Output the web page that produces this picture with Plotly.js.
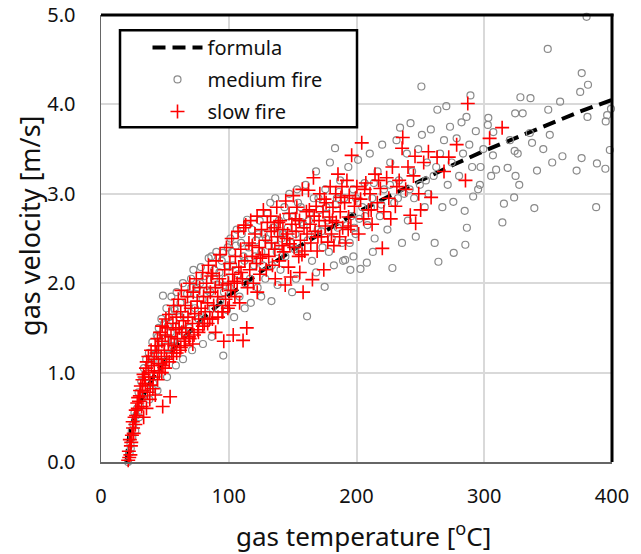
<!DOCTYPE html>
<html>
<head>
<meta charset="utf-8">
<script src="https://cdn.plot.ly/plotly-3.0.1.min.js"></script>
<style>html,body{margin:0;padding:0;background:#fff;}#chart{width:641px;height:554px;}</style>
</head>
<body>
<div id="chart"></div>
<script>
// formula curve
const formulaT = [20, 22, 25, 30, 40, 50, 60, 80, 100, 125, 150, 175, 200, 225, 250, 275, 300, 325, 350, 375, 400];
const formulaV = [0.0, 0.29, 0.46, 0.66, 0.93, 1.14, 1.32, 1.61, 1.86, 2.13, 2.37, 2.58, 2.79, 2.97, 3.15, 3.32, 3.48, 3.63, 3.78, 3.92, 4.05];

// medium fire (grey circles), read by segments
const medT1 = [21.2,22.4,23.1,24.5,25.3,26.2,26.8,28.3,29.4,29.9,31.5,31.9,33.6,33.8,35.4,35.9,37.5,37.8,39.3,40.2,40.9];
const medV1 = [0.0,0.1,0.2,0.28,0.42,0.55,0.35,0.6,0.78,0.5,0.9,0.72,1.05,0.82,1.15,0.95,1.22,0.7,1.1,1.34,0.88];
const medT2 = [42.3,43.6,44.4,45.2,46.7,47.3,48.1,49.4,50.6,51.2,52.4,53.3,54.6,55.1,56.4,57.7,58.3,59.2,60.4,48.5];
const medV2 = [1.2,1.42,0.98,1.5,1.28,1.6,1.12,1.55,1.38,1.72,1.2,1.62,1.45,1.85,1.3,1.7,1.52,1.9,1.4,1.86];
const medT3 = [62.2,63.5,64.1,66.3,67.4,69.2,70.5,72.3,73.6,75.1,76.4,78.2,79.5,81.1,82.6,84.3,85.4,87.2,88.7,90.3,91.6,93.2,94.5,95.3,95.7,97.4,98.6,99.2,101.3,100.7];
const medV3 = [1.78,1.55,2.0,1.65,1.88,1.5,2.05,2.15,1.72,1.95,1.6,2.18,1.82,2.08,1.65,2.28,1.9,1.72,2.15,2.35,1.98,1.8,2.25,2.34,1.19,2.05,1.7,2.4,2.5,1.95];
const medT4 = [103.4,104.2,105.6,107.3,108.4,110.2,111.5,113.1,114.4,115.6,117.3,118.2,119.7,121.4,122.6,124.2,125.5,127.3,128.6,130.4,131.2,132.5,133.7,135.2,136.4,137.6,139.3,140.5,141.2,143.6,144.3,146.2,147.4,148.7,150.3,149.6];
const medV4 = [2.2,1.62,2.42,2.1,1.85,2.55,2.3,2.0,2.71,2.4,1.78,2.6,2.2,2.48,1.95,2.7,2.35,2.55,2.05,2.78,2.42,2.9,2.2,2.62,2.95,2.35,2.7,2.15,2.5,2.85,2.3,2.62,3.0,2.45,2.75,1.9];
const medT5 = [152.3,153.5,155.2,156.4,158.6,160.2,161.3,161.8,163.4,165.2,166.5,168.3,169.6,171.2,173.4,175.1,175.6,177.3,179.2,180.6,183.2,183.7,185.4,187.2,189.5,190.3,191.1,193.6,195.2,195.8,197.4,199.3,201.2,203.1,204.5,206.3,208.1,208.6,210.4,212.3,214.2,216.5,218.3,220.1,221.6];
const medV5 = [2.55,3.05,2.38,2.85,2.65,3.1,1.63,2.48,2.78,2.25,2.95,3.25,2.6,2.82,2.4,1.96,3.05,2.7,3.35,2.5,3.51,2.88,2.62,3.15,2.25,2.95,2.26,3.3,2.15,2.75,3.05,2.55,3.38,2.16,2.85,3.12,2.23,2.65,3.45,2.95,2.5,3.25,2.75,3.55,3.05];
const medT6 = [224.2,226.4,228.1,229.5,231.3,233.2,234.1,235.6,237.3,239.4,240.2,242.3,243.5,245.1,246.4,248.3,249.6,251.2,250.8,253.4,255.1,256.3,258.2,260.4,261.2,263.3,264.1,265.4,267.2,268.5,270.3,271.4,273.2,274.5,276.1,275.8,278.4,280.3,282.2,283.4,285.2,284.7,286.1,286.4,288.3,289.2,290.5,291.3,293.4,295.2,297.1,296.6,299.3];
const medV6 = [2.6,3.35,2.17,2.9,3.6,3.15,3.74,2.45,3.0,3.45,2.7,3.79,3.25,2.95,2.52,3.5,3.1,3.66,4.2,2.85,3.35,3.0,3.72,3.2,2.45,3.94,2.24,3.45,2.85,3.6,3.98,3.1,3.75,3.35,2.34,2.91,3.62,3.2,3.8,3.45,2.43,2.81,3.86,2.62,3.55,4.1,3.3,2.97,3.7,3.05,3.3,3.1,3.5];
const medT7 = [303.2,302.8,305.4,307.1,306.8,309.3,314.2,315.4,318.3,320.1,323.4,324.2,323.8,324.5,326.2,327.4,328.3,330.1,336.2,335.7,337.4,339.2,341.3,346.2,350.1,349.7,351.3,353.2,359.4,361.2,372.3,375.1,376.3,376.2,380.1,381.2,380.8,388.2,387.6,395.1,394.8,396.2,398.3,399.2];
const medV7 = [3.85,3.77,3.2,3.69,3.43,3.27,2.68,2.89,3.29,3.6,2.96,3.9,3.48,3.2,3.45,3.1,4.08,3.9,4.07,3.68,3.57,2.84,3.26,3.5,3.94,4.62,3.66,3.35,4.03,3.42,3.26,4.14,4.35,3.4,4.98,4.22,3.86,3.34,2.85,3.81,3.28,3.88,3.49,3.95];
const medT8 = [57.3,65.6,73.8,86.4,92.7,106.2,116.7,126.4,134.6,142.3,154.2,162.6,170.2,178.4,186.3,194.7,202.2,
  45.7,52.3,61.4,68.6,77.5,83.2,96.3,102.6,109.7,120.4,129.2,138.4,145.6,157.3,167.3,176.4,184.6,192.4,199.6,206.8,213.6,219.4,
  35.2,38.4,44.6,56.2,70.8,88.4,98.7,112.3,123.2,136.8,151.6,172.6,188.7,198.2,211.3,226.2,232.4,241.6,254.3,262.4,
  27.6,30.7,24.1,23.3];
const medV8 = [1.72,1.45,1.88,2.3,2.12,2.6,2.05,2.2,2.62,2.55,2.9,2.7,2.95,2.35,3.02,2.45,2.72,
  1.12,1.52,1.62,1.75,2.0,1.92,1.9,2.35,2.45,2.3,2.5,2.55,2.75,2.68,2.55,2.85,2.95,2.65,2.95,2.75,3.12,2.88,
  0.82,1.15,1.4,1.35,1.95,2.05,2.2,2.25,2.55,2.42,2.38,2.58,2.45,2.62,2.85,3.1,2.95,3.05,3.15,3.3,
  0.52,0.62,0.35,0.15];
const medT9 = [112.5,125.4,138.2,152.6,168.4,182.3,197.6,212.8,133.4,58.6,64.2,71.3,79.8,86.7,44.2,51.7];
const medV9 = [1.72,1.85,1.98,2.05,2.12,2.2,2.3,2.35,1.8,1.08,1.15,1.25,1.32,1.4,0.8,0.95];

// slow fire (red crosses), read by segments
const slowTA = [21.3,22.1,21.8,23.4,22.6,23.0,24.2,23.7,25.1,24.8,26.3,25.6,27.2,26.9,28.4,27.5,29.1,28.8,30.6,29.7,31.2,30.4,32.5,31.8,33.3,32.6,34.7,35.2,34.1,36.4,35.8,37.3,38.6,37.1,39.5,40.8,39.2,41.6];
const slowVA = [0.02,0.05,0.12,0.18,0.25,0.08,0.3,0.22,0.38,0.45,0.5,0.32,0.58,0.42,0.66,0.52,0.72,0.6,0.8,0.68,0.85,0.74,0.92,0.62,0.98,0.8,0.88,1.05,0.95,0.78,1.12,1.0,0.86,1.18,1.08,0.95,1.25,1.15];
const slowTB = [42.4,41.7,43.5,44.2,44.9,45.6,45.1,46.3,47.2,47.7,48.5,47.9,49.6,50.3,50.8,51.4,52.7,51.9,48.3,54.1,53.2,54.8,55.5,56.3,56.9,57.4,58.6,59.1,59.8,60.5,61.2];
const slowVB = [1.3,1.02,1.22,1.38,1.1,1.0,1.3,1.45,1.18,1.35,1.08,1.52,1.25,1.42,1.6,1.15,1.32,1.5,0.62,0.73,1.65,1.4,1.22,1.55,1.75,1.3,1.48,1.62,1.38,1.82,1.5];
const slowTC = [61.8,62.4,63.3,62.9,64.6,65.2,65.9,66.4,67.7,68.1,68.8,69.5,70.3,71.6,72.2,71.9,73.4,74.6,75.3,75.8,76.5,77.2,78.4,79.6,80.3,80.9,81.5,82.7,83.4,84.1,85.6,85.2,86.3,87.4,88.2,89.5,90.1,89.7];
const slowVC = [1.25,1.68,1.45,1.92,1.58,1.35,1.75,1.5,1.85,1.62,1.4,2.0,1.72,1.55,1.9,1.32,1.66,2.05,1.8,1.48,1.6,1.95,1.72,2.12,1.85,1.55,1.68,2.0,1.78,2.2,1.9,1.6,2.08,2.11,1.75,1.95,2.25,1.45];
const slowTD = [91.4,92.6,93.2,94.7,95.3,96.1,96.8,97.5,98.2,99.6,100.4,100.9,101.7,102.3,103.5,103.1,104.8,105.2,106.6,107.3,108.5,107.9,109.4,110.7,111.2,111.8,112.6,113.3,114.1,114.7,115.8,116.4,117.2,118.6,119.3,120.5,121.7,122.2,123.8,124.4,125.6,126.3,127.1,128.7,129.4,130.2];
const slowVD = [1.85,2.05,2.32,1.68,1.98,1.35,2.15,1.82,2.4,2.0,1.75,2.22,1.92,2.5,1.42,2.1,1.85,2.3,2.0,2.58,1.78,2.18,2.38,2.05,1.36,2.62,2.25,2.65,1.5,1.95,2.45,2.15,2.7,2.3,2.0,2.55,2.22,2.75,2.4,2.1,2.6,2.32,2.82,2.48,2.15,2.68];
const slowTE = [131.3,132.8,133.4,134.2,135.7,136.1,137.6,138.3,139.5,140.2,141.8,142.4,143.1,144.6,145.3,146.7,147.2,148.5,147.8,149.4,150.6,151.2,152.7,153.3,154.8,155.4,156.1,157.6,158.2,158.9,159.5,160.8,161.3,162.4,163.7,164.2,165.5,166.3,166.9,167.6,168.4,169.2,170.7,171.3,172.5,173.8,174.4,175.6,176.2,177.5,178.8,179.4];
const slowVE = [2.3,2.75,2.45,2.2,2.62,2.38,2.85,2.52,2.25,2.7,2.42,2.6,2.35,2.92,2.5,2.18,2.78,2.07,2.44,2.66,2.98,2.4,2.58,2.85,2.3,2.7,2.48,3.05,1.9,2.62,2.36,2.8,2.55,3.04,2.66,2.45,2.04,3.18,2.75,2.58,2.86,2.36,2.7,3.0,2.52,2.8,2.15,2.64,2.9,2.46,2.74,3.08];
const slowTF = [180.4,181.6,182.3,183.7,184.2,185.5,186.8,187.3,188.6,189.2,190.7,191.4,192.5,193.8,194.3,196.2,195.6,198.4,200.3,201.7,203.2,204.1,205.6,207.3,209.4,210.6,212.2,214.5,216.3,218.7,220.2,221.4,223.6,225.3,228.1,230.4];
const slowVF = [2.55,2.85,2.42,3.0,2.68,3.22,2.52,2.8,3.08,2.62,2.9,2.45,3.15,2.74,2.98,3.43,2.64,2.86,3.08,2.55,2.94,3.57,2.72,3.12,2.82,3.0,2.66,3.22,2.9,3.06,2.39,2.8,3.18,2.95,3.3,2.86];
const slowTG = [233.4,236.2,235.7,238.5,240.3,242.1,244.6,246.3,245.8,248.7,250.2,252.6,256.3,258.4,263.1,268.5,272.2,278.4,285.3,287.1,304.2,314.0];
const slowVG = [3.15,3.63,3.51,3.05,3.3,2.76,3.2,2.67,3.42,3.0,2.82,3.35,3.47,2.96,3.41,3.25,3.41,3.55,3.15,4.01,3.62,3.74];
const slowTH = [44.3,47.6,50.2,53.4,56.7,59.2,62.5,66.1,69.4,72.8,76.3,79.7,83.5,87.2,91.6,95.4,99.3,40.6,38.2,35.6,33.4,42.5,
  104.3,109.6,118.4,124.8,133.2,138.8,146.1,152.2,157.3,163.1,169.8,174.9,181.2,187.8,193.5,199.2,206.4,211.5,217.3,226.8,231.6,122.3,136.4,155.6,144.2];
const slowVH = [0.92,1.0,1.05,1.12,1.18,1.22,1.28,1.3,1.38,1.42,1.45,1.52,1.55,1.6,1.62,1.68,1.72,0.82,0.7,0.6,0.5,0.75,
  2.02,2.12,2.42,2.28,2.58,2.68,2.55,2.72,2.32,2.82,2.52,2.94,2.7,2.96,2.6,2.95,3.05,2.82,3.15,2.72,3.08,1.9,2.05,2.12,1.98];

// axis ticks
const xTicks = [0, 100, 200, 300, 400];
const xTickText = ['0', '100', '200', '300', '400'];
const yTicks = [0, 1, 2, 3, 4, 5];
const yTickText = ['0.0', '1.0', '2.0', '3.0', '4.0', '5.0'];

const mediumT = [].concat(medT1, medT2, medT3, medT4, medT5, medT6, medT7, medT8, medT9);
const mediumV = [].concat(medV1, medV2, medV3, medV4, medV5, medV6, medV7, medV8, medV9);
const slowT = [].concat(slowTA, slowTB, slowTC, slowTD, slowTE, slowTF, slowTG, slowTH);
const slowV = [].concat(slowVA, slowVB, slowVC, slowVD, slowVE, slowVF, slowVG, slowVH);

const FONT = '"Noto Sans", "Noto Sans CJK KR", sans-serif';

const traces = [
  {x: formulaT, y: formulaV, name: 'formula', legendgroup: 'a', type: 'scatter', mode: 'lines',
   line: {color: '#000', width: 4, dash: '13px,7px'}, cliponaxis: false},
  {x: mediumT, y: mediumV, name: 'medium fire', legendgroup: 'b', type: 'scatter', mode: 'markers',
   marker: {symbol: 'circle-open', size: 7, color: '#8a8a8a', line: {width: 1.2, color: '#8a8a8a'}}, cliponaxis: false},
  {x: slowT, y: slowV, name: 'slow fire', legendgroup: 'c', type: 'scatter', mode: 'markers',
   marker: {symbol: 'cross-thin-open', size: 10, color: '#ff0000', line: {width: 1.6, color: '#ff0000'}}, cliponaxis: false}
];

const layout = {
  width: 641, height: 554,
  margin: {l: 101, r: 29, t: 15, b: 92},
  paper_bgcolor: '#fff', plot_bgcolor: '#fff',
  font: {family: FONT, color: '#111', size: 20},
  showlegend: true,
  legend: {x: 0.091, y: 0.971, xanchor: 'left', yanchor: 'top', bgcolor: 'rgba(0,0,0,0)',
           borderwidth: 0, font: {family: FONT, size: 20, color: '#111'}, itemwidth: 50,
           traceorder: 'grouped', tracegroupgap: 3},
  xaxis: {range: [0, 400], tickvals: xTicks, ticktext: xTickText, showgrid: true, gridcolor: '#d9d9d9', gridwidth: 2,
          zeroline: false, showline: true, linecolor: '#666', linewidth: 1.5, ticks: '', ticklabelstandoff: 15,
          tickfont: {family: FONT, size: 20, color: '#111'}, fixedrange: true},
  yaxis: {range: [0, 5], tickvals: yTicks, ticktext: yTickText, showgrid: true, gridcolor: '#d9d9d9', gridwidth: 2,
          zeroline: false, showline: true, linecolor: '#666', linewidth: 1.5, ticks: '', ticklabelstandoff: 20,
          tickfont: {family: FONT, size: 20, color: '#111'}, fixedrange: true},
  shapes: [
    {type: 'line', xref: 'paper', yref: 'paper', x0: 0, x1: 1.003, y0: 1, y1: 1, line: {color: '#000', width: 3}, layer: 'above'},
    {type: 'line', xref: 'paper', yref: 'paper', x0: 1, x1: 1, y0: 0, y1: 1.003, line: {color: '#000', width: 3}, layer: 'above'},
    {type: 'rect', xref: 'paper', yref: 'paper', x0: 0.0372, x1: 0.501, y0: 0.749, y1: 0.966,
     line: {color: '#000', width: 2.5}, fillcolor: '#fff', layer: 'above'}
  ],
  annotations: [
    {text: 'gas temperature [<sup>o</sup>C]', xref: 'paper', yref: 'paper', x: 0.513, y: -0.163,
     xanchor: 'center', yanchor: 'middle', showarrow: false, font: {family: FONT, size: 26, color: '#111'}},
    {text: 'gas velocity [m/s]', xref: 'paper', yref: 'paper', x: -0.139, y: 0.528, textangle: -90,
     xanchor: 'center', yanchor: 'middle', showarrow: false, font: {family: FONT, size: 27, color: '#111'}}
  ]
};

Plotly.newPlot('chart', traces, layout, {displayModeBar: false, staticPlot: true});
</script>
</body>
</html>
